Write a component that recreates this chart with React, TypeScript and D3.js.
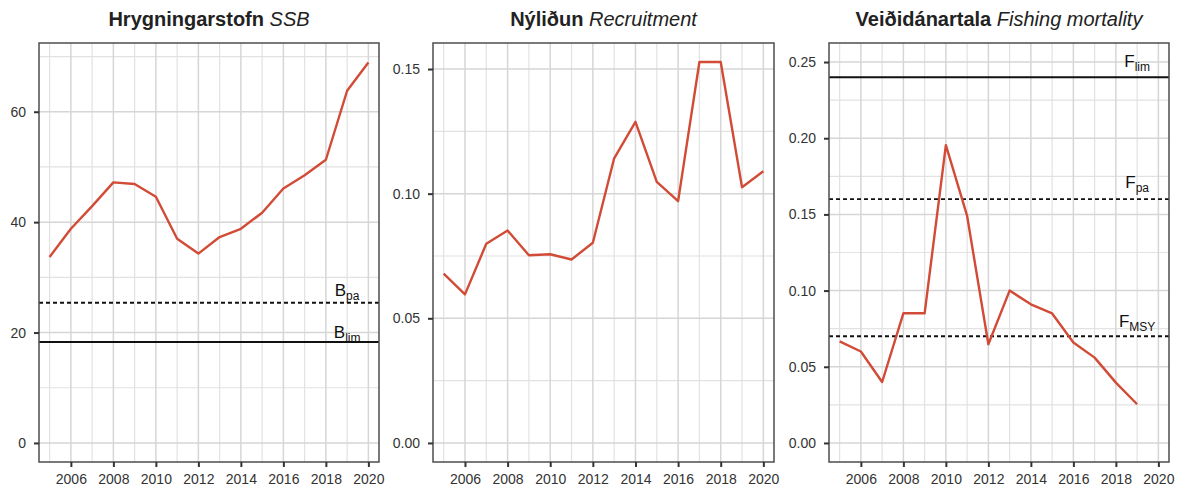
import React, { useEffect, useRef } from 'react';
import * as d3 from 'd3';

const years = [2005, 2006, 2007, 2008, 2009, 2010, 2011, 2012, 2013, 2014, 2015, 2016, 2017, 2018, 2019, 2020];
const ssb = [33.7, 38.8, 42.9, 47.2, 46.9, 44.6, 37.0, 34.3, 37.3, 38.8, 41.7, 46.1, 48.5, 51.3, 63.8, 68.9];
const recruitment = [0.0679, 0.0596, 0.0799, 0.0852, 0.0753, 0.0757, 0.0736, 0.0803, 0.1142, 0.1288, 0.1047, 0.097, 0.1528, 0.1528, 0.1026, 0.109];
const fYears = [2005, 2006, 2007, 2008, 2009, 2010, 2011, 2012, 2013, 2014, 2015, 2016, 2017, 2018, 2019];
const fishingMortality = [0.0667, 0.06, 0.04, 0.0851, 0.0851, 0.1955, 0.149, 0.0648, 0.1, 0.091, 0.085, 0.0659, 0.056, 0.0396, 0.0254];

const xTicks = [2006, 2008, 2010, 2012, 2014, 2016, 2018, 2020];
const ssbTicks = [0, 20, 40, 60];
const recTicks = [0, 0.05, 0.1, 0.15];
const fTicks = [0, 0.05, 0.1, 0.15, 0.2, 0.25];

interface RefLine { main: string; sub: string; value: number; dashed: boolean; dy: number; }

const ssbRefs: RefLine[] = [
  { main: 'B', sub: 'lim', value: 18.3, dashed: false, dy: 4 },
  { main: 'B', sub: 'pa', value: 25.4, dashed: true, dy: 7 },
];
const recRefs: RefLine[] = [];
const fRefs: RefLine[] = [
  { main: 'F', sub: 'lim', value: 0.24, dashed: false, dy: 10 },
  { main: 'F', sub: 'pa', value: 0.16, dashed: true, dy: 11 },
  { main: 'F', sub: 'MSY', value: 0.07, dashed: true, dy: 9 },
];

interface PanelDef {
  left: number; right: number;
  titleBold: string; titleItalic: string;
  xs: number[]; ys: number[];
  yMax: number; yTicks: number[]; yFormat: (d: number) => string;
  refs: RefLine[];
}

const top = 43;
const bottom = 462;
const font = '"Liberation Sans", Arial, Helvetica, sans-serif';

const panels: PanelDef[] = [
  { left: 39, right: 379, titleBold: 'Hrygningarstofn', titleItalic: 'SSB', xs: years, ys: ssb,
    yMax: 69, yTicks: ssbTicks, yFormat: d3.format('d'), refs: ssbRefs },
  { left: 433, right: 774, titleBold: 'Nýliðun', titleItalic: 'Recruitment', xs: years, ys: recruitment,
    yMax: 0.1528, yTicks: recTicks, yFormat: d3.format('.2f'), refs: recRefs },
  { left: 829, right: 1169, titleBold: 'Veiðidánartala', titleItalic: 'Fishing mortality', xs: fYears, ys: fishingMortality,
    yMax: 0.25, yTicks: fTicks, yFormat: d3.format('.2f'), refs: fRefs },
];

const App: React.FC = () => {
  const svgRef = useRef<SVGSVGElement>(null);

  useEffect(() => {
    if (!svgRef.current) return;
    const svg = d3.select(svgRef.current);
    svg.selectAll('*').remove();

    panels.forEach(p => {
      const g = svg.append('g');
      const span = p.yMax;
      const x = d3.scaleLinear().domain([2004.5, 2020.5]).range([p.left, p.right]);
      const y = d3.scaleLinear().domain([-0.05 * span, p.yMax + 0.05 * span]).range([bottom, top]);

      // minor grid
      const step = p.yTicks[1] - p.yTicks[0];
      const minorY = d3.range(p.yTicks[0] + step / 2, y.domain()[1], step);
      const minorX = d3.range(2005, 2021, 2);
      g.selectAll('.minor-y').data(minorY).enter().append('line')
        .attr('x1', p.left).attr('x2', p.right)
        .attr('y1', d => y(d)).attr('y2', d => y(d))
        .attr('stroke', '#e2e2e2').attr('stroke-width', 1.2);
      g.selectAll('.minor-x').data(minorX).enter().append('line')
        .attr('x1', d => x(d)).attr('x2', d => x(d))
        .attr('y1', top).attr('y2', bottom)
        .attr('stroke', '#e2e2e2').attr('stroke-width', 1.2);

      // major grid
      g.selectAll('.major-y').data(p.yTicks).enter().append('line')
        .attr('x1', p.left).attr('x2', p.right)
        .attr('y1', d => y(d)).attr('y2', d => y(d))
        .attr('stroke', '#d6d6d6').attr('stroke-width', 1.5);
      g.selectAll('.major-x').data(xTicks).enter().append('line')
        .attr('x1', d => x(d)).attr('x2', d => x(d))
        .attr('y1', top).attr('y2', bottom)
        .attr('stroke', '#d6d6d6').attr('stroke-width', 1.5);

      // reference lines
      p.refs.forEach(r => {
        g.append('line')
          .attr('x1', p.left).attr('x2', p.right)
          .attr('y1', y(r.value)).attr('y2', y(r.value))
          .attr('stroke', '#111').attr('stroke-width', 1.9)
          .attr('stroke-dasharray', r.dashed ? '4,3' : null);
        const t = g.append('text')
          .attr('x', x(2019)).attr('y', y(r.value) - r.dy)
          .attr('text-anchor', 'middle')
          .style('font-family', font).style('fill', '#111');
        t.append('tspan').style('font-size', '17px').text(r.main);
        t.append('tspan').style('font-size', '12px').attr('dy', 4).text(r.sub);
      });

      // series
      const line = d3.line<number>().x((_, i) => x(p.xs[i])).y(d => y(d));
      g.append('path')
        .datum(p.ys)
        .attr('d', line)
        .attr('fill', 'none')
        .attr('stroke', '#d14b36')
        .attr('stroke-width', 2.4)
        .attr('stroke-linejoin', 'round');

      // border
      g.append('rect')
        .attr('x', p.left).attr('y', top)
        .attr('width', p.right - p.left).attr('height', bottom - top)
        .attr('fill', 'none').attr('stroke', '#4d4d4d').attr('stroke-width', 1.5);

      // axes
      const yAxis = g.append('g').attr('transform', `translate(${p.left},0)`)
        .call(d3.axisLeft(y).tickValues(p.yTicks).tickFormat(d => p.yFormat(d as number)).tickSize(5).tickPadding(8));
      const xAxis = g.append('g').attr('transform', `translate(0,${bottom})`)
        .call(d3.axisBottom(x).tickValues(xTicks).tickFormat(d3.format('d')).tickSize(5).tickPadding(7));
      [yAxis, xAxis].forEach(a => {
        a.select('.domain').remove();
        a.selectAll('line').attr('stroke', '#333').attr('stroke-width', 2);
        a.selectAll('text').style('font-family', font).style('font-size', '14px').style('fill', '#333');
      });

      // title
      const title = g.append('text')
        .attr('x', (p.left + p.right) / 2).attr('y', 26)
        .attr('text-anchor', 'middle')
        .style('font-family', font).style('font-size', '20px').style('fill', '#222');
      title.append('tspan').style('font-weight', 'bold').text(p.titleBold + ' ');
      title.append('tspan').style('font-style', 'italic').text(p.titleItalic);
    });
  }, []);

  return (
    <svg ref={svgRef} width={1183} height={490}
      style={{ position: 'absolute', left: 0, top: 0, background: '#fff' }} />
  );
};

export default App;
